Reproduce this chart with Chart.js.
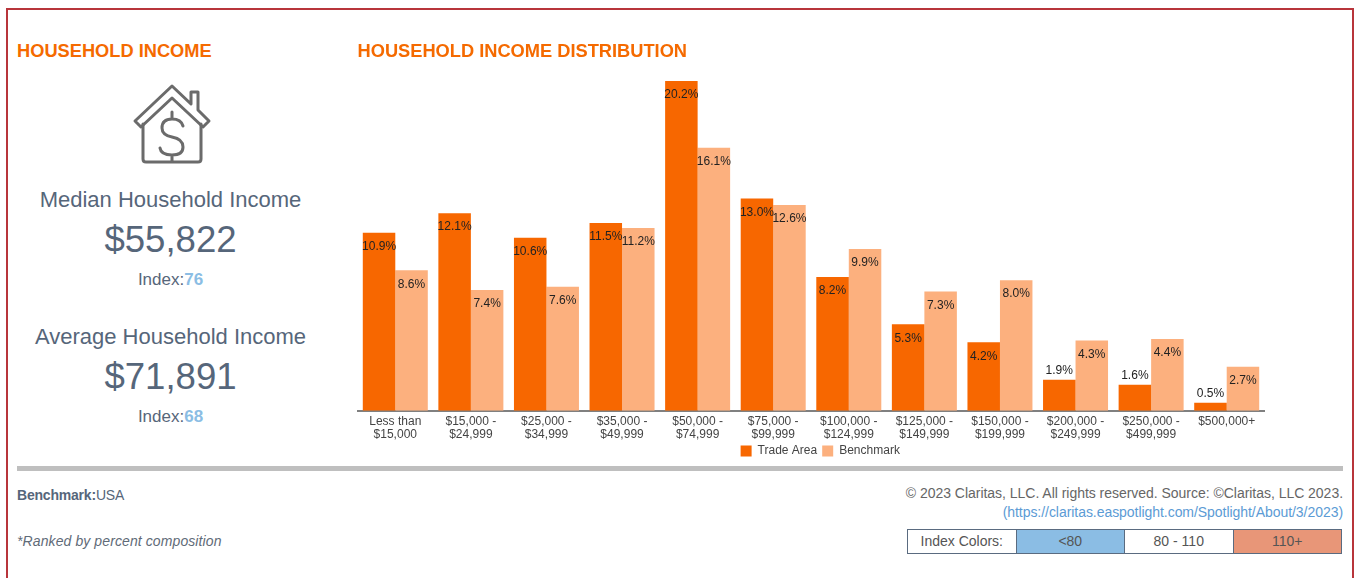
<!DOCTYPE html>
<html>
<head>
<meta charset="utf-8">
<script src="https://cdn.jsdelivr.net/npm/chart.js@4"></script>
<style>
  html, body { margin: 0; padding: 0; background: #fff; overflow: hidden; }
  body { width: 1361px; height: 578px; position: relative; font-family: "Liberation Sans", Arial, sans-serif; color: #56667a; }
  .abs { position: absolute; white-space: nowrap; }
  .ctr { text-align: center; left: 17px; width: 307px; }
  #frame { left: 6px; top: 8px; width: 1348px; height: 580px; border: 2px solid #b8353b; box-sizing: border-box; }
  #rule { left: 17px; top: 466px; width: 1326px; height: 5px; background: #bfbfbf; }
  #idx { left: 907px; top: 529px; width: 435px; height: 25px; display: flex; border: 1px solid #5a6b80; box-sizing: border-box; font-size: 14px; color: #555; }
  #idx div { flex: 1; text-align: center; line-height: 23px; border-left: 1px solid #5a6b80; }
  #idx div:first-child { border-left: 0; }
  #wrap { left: 350px; top: 35px; width: 933px; height: 432px; }
</style>
</head>
<body>
<div id="frame" class="abs"></div>
<div class="abs" style="left:17px;top:40px;font-size:18.25px;font-weight:bold;color:#f56a00">HOUSEHOLD INCOME</div>

<svg class="abs" style="left:130px;top:83px" width="84" height="82" viewBox="0 0 84 82" fill="none" stroke="#6b6b6b" stroke-width="3" stroke-linejoin="round" stroke-linecap="round">
  <path d="M42 3 L61 21 V9 H68 V27 L79 38 L73 44 L42 15 L11 44 L5 38 Z"/>
  <path d="M13 41 V76 Q13 79 16 79 H68 Q71 79 71 76 V41"/>
  <path d="M53 43 Q51 36 42 36 Q32 36 32 45 Q32 52 42 54 Q53 56 53 64 Q53 72 42 72 Q31 72 30 65 M42 29 V36 M42 72 V78"/>
</svg>

<div id="medTitle" class="abs ctr" style="top:187px;font-size:22px"></div>
<div id="medVal" class="abs ctr" style="top:219px;font-size:36.6px"></div>
<div id="medIdx" class="abs ctr" style="top:270px;font-size:17px"></div>
<div id="avgTitle" class="abs ctr" style="top:324px;font-size:22px"></div>
<div id="avgVal" class="abs ctr" style="top:356px;font-size:36.6px"></div>
<div id="avgIdx" class="abs ctr" style="top:407px;font-size:17px"></div>

<div id="wrap" class="abs"><canvas id="income"></canvas></div>

<div id="rule" class="abs"></div>
<div class="abs" style="left:17px;top:487px;font-size:14px;letter-spacing:-.2px"><b>Benchmark:</b>USA</div>
<div class="abs" style="left:17px;top:533px;font-size:14px;font-style:italic;letter-spacing:.1px;color:#5f6b78">*Ranked by percent composition</div>
<div class="abs" style="right:18px;top:485px;font-size:14px;color:#666;letter-spacing:-.03px">© 2023 Claritas, LLC. All rights reserved. Source: ©Claritas, LLC 2023.</div>
<div class="abs" style="right:18px;top:504px;font-size:14px;color:#5b9bd5;letter-spacing:-.05px">(https://claritas.easpotlight.com/Spotlight/About/3/2023)</div>
<div id="idx" class="abs">
  <div>Index Colors:</div>
  <div style="background:#8bbde4">&lt;80</div>
  <div>80 - 110</div>
  <div style="background:#e89678">110+</div>
</div>

<script>
const categories = [
  ["Less than", "$15,000"], ["$15,000 -", "$24,999"], ["$25,000 -", "$34,999"],
  ["$35,000 -", "$49,999"], ["$50,000 -", "$74,999"], ["$75,000 -", "$99,999"],
  ["$100,000 -", "$124,999"], ["$125,000 -", "$149,999"], ["$150,000 -", "$199,999"],
  ["$200,000 -", "$249,999"], ["$250,000 -", "$499,999"], ["$500,000+"],
];
const tradeArea = [10.9, 12.1, 10.6, 11.5, 20.2, 13.0, 8.2, 5.3, 4.2, 1.9, 1.6, 0.5];
const benchmark = [8.6, 7.4, 7.6, 11.2, 16.1, 12.6, 9.9, 7.3, 8.0, 4.3, 4.4, 2.7];
const medianIncome = "$55,822";
const medianIndex = 76;
const averageIncome = "$71,891";
const averageIndex = 68;

function indexHtml(v) {
  return 'Index:<b style="color:#8bbde4">' + v + "</b>";
}
document.getElementById("medTitle").textContent = "Median Household Income";
document.getElementById("medVal").textContent = medianIncome;
document.getElementById("medIdx").innerHTML = indexHtml(medianIndex);
document.getElementById("avgTitle").textContent = "Average Household Income";
document.getElementById("avgVal").textContent = averageIncome;
document.getElementById("avgIdx").innerHTML = indexHtml(averageIndex);

// percent labels: inside the top of the bar, above it when the bar is too short
const barLabels = {
  id: "barLabels",
  afterDatasetsDraw(chart) {
    const ctx = chart.ctx;
    ctx.save();
    ctx.font = "12px 'Liberation Sans'";
    ctx.fillStyle = "#222";
    ctx.textAlign = "center";
    ctx.textBaseline = "middle";
    chart.data.datasets.forEach((ds, i) => {
      chart.getDatasetMeta(i).data.forEach((bar, j) => {
        const v = ds.data[j];
        const y = v < 2 ? bar.y - 9 : bar.y + 14;
        ctx.fillText(v.toFixed(1) + "%", bar.x, y);
      });
    });
    ctx.restore();
  },
};

const config = {
  type: "bar",
  data: {
    labels: categories,
    datasets: [
      { label: "Trade Area", data: tradeArea, backgroundColor: "#f76700" },
      { label: "Benchmark", data: benchmark, backgroundColor: "#fcb07e" },
    ],
  },
  options: {
    responsive: true,
    maintainAspectRatio: false,
    animation: false,
    layout: { padding: { left: 7.5, right: 0, top: 0, bottom: 0 } },
    datasets: { bar: { categoryPercentage: 0.86, barPercentage: 1 } },
    plugins: {
      tooltip: { enabled: false },
      title: {
        display: true,
        text: "HOUSEHOLD INCOME DISTRIBUTION",
        align: "start",
        color: "#f56a00",
        font: { family: "'Liberation Sans'", size: 18.25, weight: "bold" },
        padding: { top: 6, bottom: 18 },
      },
      legend: {
        position: "bottom",
        labels: {
          boxWidth: 11,
          boxHeight: 11,
          padding: 5,
          color: "#444",
          font: { family: "'Liberation Sans'", size: 12 },
        },
      },
    },
    scales: {
      x: {
        grid: { display: false, drawTicks: false },
        border: { color: "#808080", width: 2 },
        ticks: {
          color: "#444",
          maxRotation: 0,
          autoSkip: false,
          padding: 5,
          font: { family: "'Liberation Sans'", size: 12, lineHeight: 1.05 },
        },
        // tick labels sit close to the legend here
        afterFit(scale) { scale.height -= 6; },
      },
      y: {
        position: "right",
        min: 0,
        max: 20.2,
        grid: { display: false },
        border: { display: false },
        ticks: { display: false },
        // empty strip right of the bars, the legend sits off-centre from the plot
        afterFit(scale) { scale.width = 18.5; },
      },
    },
  },
  plugins: [barLabels],
};

new Chart(document.getElementById("income"), config);
</script>
</body>
</html>
